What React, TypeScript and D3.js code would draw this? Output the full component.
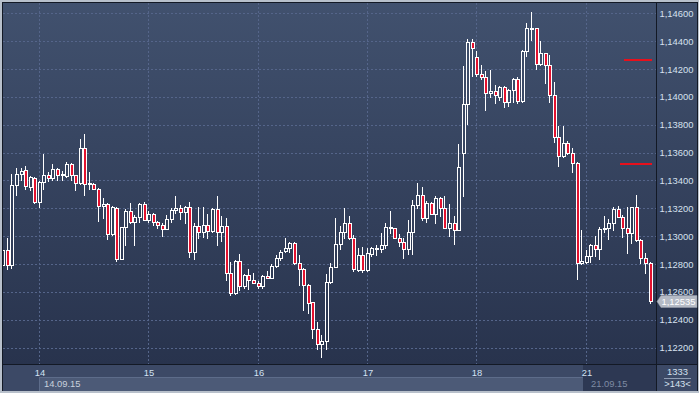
import * as d3 from 'd3';
import { useEffect, useRef } from 'react';

// EURUSD H1, 11.09.15 - 21.09.15 (143 bars shown)
const opens = [1.1279, 1.129, 1.1279, 1.13364, 1.13448, 1.13472, 1.13352, 1.13419, 1.13246, 1.13388,
  1.13441, 1.13419, 1.13484, 1.1344, 1.13431, 1.1352, 1.13436, 1.13383, 1.13636, 1.13376,
  1.13376, 1.1334, 1.13219, 1.13231, 1.13014, 1.13202, 1.12838, 1.13063, 1.13181, 1.13099,
  1.1314, 1.13231, 1.13116, 1.13159, 1.13099, 1.1308, 1.13051, 1.13123, 1.1319, 1.132,
  1.13176, 1.1321, 1.12888, 1.13073, 1.13032, 1.1308, 1.13039, 1.13195, 1.13032, 1.13073,
  1.12734, 1.1259, 1.12823, 1.12643, 1.1272, 1.12684, 1.12667, 1.12643, 1.12715, 1.12701,
  1.12787, 1.12842, 1.12893, 1.12917, 1.1295, 1.12806, 1.12763, 1.12648, 1.12528, 1.12331,
  1.12223, 1.12247, 1.12674, 1.1278, 1.12941, 1.13027, 1.13092, 1.12989, 1.12756, 1.12863,
  1.12756, 1.12874, 1.12912, 1.12905, 1.12936, 1.13066, 1.13056, 1.12989, 1.1296, 1.12905,
  1.13027, 1.13224, 1.13296, 1.13128, 1.13241, 1.13162, 1.13277, 1.13205, 1.13061, 1.13097,
  1.13042, 1.13597, 1.13947, 1.14395, 1.14287, 1.14166, 1.14142, 1.14026, 1.14043, 1.14002,
  1.1407, 1.13961, 1.14051, 1.14128, 1.13971, 1.14328, 1.14492, 1.14492, 1.14239, 1.14312,
  1.14227, 1.14016, 1.13711, 1.13578, 1.1367, 1.13598, 1.13525, 1.12804, 1.12814, 1.12857,
  1.12934, 1.12905, 1.1305, 1.13055, 1.13093, 1.13194, 1.13141, 1.13061, 1.13021, 1.13206,
  1.1297, 1.1284, 1.12809];

const highs = [1.129, 1.1299, 1.13448, 1.13489, 1.1349, 1.13504, 1.13431, 1.13424, 1.13393, 1.13593,
  1.1346, 1.1352, 1.13492, 1.13467, 1.13533, 1.13528, 1.13441, 1.13696, 1.13733, 1.1346,
  1.13383, 1.13345, 1.13272, 1.13238, 1.13219, 1.13207, 1.13063, 1.13195, 1.13236, 1.13152,
  1.13238, 1.13248, 1.13183, 1.13166, 1.13111, 1.13092, 1.13154, 1.132, 1.13291, 1.13224,
  1.13219, 1.13243, 1.13094, 1.13207, 1.13212, 1.13159, 1.132, 1.13291, 1.13147, 1.13128,
  1.12816, 1.1283, 1.12869, 1.12725, 1.12763, 1.12734, 1.12679, 1.1272, 1.12751, 1.12799,
  1.12864, 1.12902, 1.12984, 1.1296, 1.1296, 1.12864, 1.12768, 1.12653, 1.12528, 1.12384,
  1.12288, 1.12727, 1.12806, 1.13128, 1.13073, 1.132, 1.13145, 1.13008, 1.12913, 1.12922,
  1.12913, 1.12922, 1.12936, 1.13025, 1.13092, 1.13181, 1.13061, 1.13018, 1.12989, 1.13116,
  1.13258, 1.1338, 1.13354, 1.13253, 1.13248, 1.13289, 1.13284, 1.13286, 1.13229, 1.13145,
  1.13661, 1.14219, 1.14417, 1.14417, 1.14328, 1.14231, 1.14183, 1.14195, 1.14087, 1.1408,
  1.14075, 1.14055, 1.14135, 1.14142, 1.1434, 1.14533, 1.14612, 1.14497, 1.144, 1.14315,
  1.14299, 1.14107, 1.1379, 1.1379, 1.1368, 1.13631, 1.1353, 1.13045, 1.129, 1.12941,
  1.13001, 1.13069, 1.13146, 1.13122, 1.13206, 1.13218, 1.1315, 1.13206, 1.13206, 1.13297,
  1.12977, 1.12881, 1.12814];

const lows = [1.1278, 1.12766, 1.1277, 1.13296, 1.134, 1.13335, 1.13328, 1.1324, 1.13207, 1.1334,
  1.13393, 1.134, 1.13405, 1.13405, 1.13424, 1.134, 1.13332, 1.13376, 1.13296, 1.1334,
  1.13335, 1.13106, 1.13128, 1.12978, 1.13007, 1.12822, 1.12838, 1.12938, 1.13094, 1.12938,
  1.13099, 1.13116, 1.13104, 1.13082, 1.13055, 1.13002, 1.13051, 1.13099, 1.13166, 1.13123,
  1.13094, 1.12847, 1.12835, 1.12984, 1.12991, 1.12984, 1.13032, 1.12936, 1.12967, 1.12686,
  1.12581, 1.12586, 1.12612, 1.12631, 1.12619, 1.12662, 1.12629, 1.12629, 1.12696, 1.12696,
  1.12782, 1.1283, 1.12888, 1.12888, 1.12797, 1.12648, 1.1247, 1.12451, 1.12271, 1.12187,
  1.12134, 1.12192, 1.12667, 1.1278, 1.12905, 1.12989, 1.12977, 1.12751, 1.1275, 1.12745,
  1.1275, 1.12857, 1.12864, 1.12888, 1.12912, 1.13025, 1.12984, 1.12929, 1.12845, 1.12874,
  1.12874, 1.13205, 1.13114, 1.13104, 1.13162, 1.13097, 1.13145, 1.13056, 1.13001, 1.12941,
  1.13042, 1.13291, 1.13805, 1.1415, 1.14147, 1.1413, 1.13906, 1.14002, 1.13954, 1.13978,
  1.13925, 1.13937, 1.13966, 1.13954, 1.13966, 1.14296, 1.14408, 1.14203, 1.14232, 1.14102,
  1.13963, 1.13674, 1.13501, 1.13566, 1.1359, 1.13458, 1.12689, 1.12797, 1.12804, 1.12814,
  1.12857, 1.12833, 1.1303, 1.12979, 1.13045, 1.13134, 1.12997, 1.12881, 1.12948, 1.12965,
  1.12809, 1.12737, 1.12521];

const closes = [1.129, 1.1279, 1.13364, 1.13448, 1.13467, 1.13357, 1.13424, 1.13246, 1.13388, 1.13441,
  1.13419, 1.13484, 1.13441, 1.13445, 1.1352, 1.13436, 1.13383, 1.13636, 1.13376, 1.1338,
  1.1334, 1.13219, 1.13231, 1.13014, 1.13212, 1.12838, 1.13063, 1.13183, 1.13099, 1.1314,
  1.13231, 1.13116, 1.13159, 1.13099, 1.1308, 1.13051, 1.13123, 1.1319, 1.132, 1.13176,
  1.1321, 1.12888, 1.13073, 1.13032, 1.1308, 1.13039, 1.13195, 1.13032, 1.13073, 1.12734,
  1.1259, 1.12823, 1.12643, 1.1272, 1.12684, 1.12667, 1.12643, 1.12715, 1.12701, 1.12787,
  1.12842, 1.12888, 1.12917, 1.1295, 1.12806, 1.12763, 1.12648, 1.12523, 1.12331, 1.12223,
  1.12247, 1.12674, 1.1278, 1.12941, 1.13027, 1.13092, 1.12989, 1.12763, 1.12863, 1.12756,
  1.12877, 1.12912, 1.12915, 1.12936, 1.13066, 1.13061, 1.12989, 1.1296, 1.12905, 1.13027,
  1.13224, 1.13296, 1.13128, 1.13241, 1.13162, 1.13277, 1.13205, 1.13061, 1.13097, 1.13042,
  1.13498, 1.13947, 1.14395, 1.14352, 1.14166, 1.14142, 1.14026, 1.14043, 1.14014, 1.1407,
  1.13961, 1.14051, 1.14128, 1.13971, 1.14328, 1.14496, 1.14495, 1.14239, 1.14312, 1.14227,
  1.14016, 1.13711, 1.13578, 1.1367, 1.13598, 1.13525, 1.12809, 1.12821, 1.12857, 1.12934,
  1.12905, 1.1305, 1.13055, 1.13093, 1.13194, 1.13141, 1.13061, 1.13021, 1.13206, 1.1297,
  1.1284, 1.12809, 1.12535];

// bar index where each day starts, and its label
const dayStarts = [8, 32, 56, 80, 104, 128];
const dayLabels = ['14', '15', '16', '17', '18', '21'];
const priceTicks = [1.122, 1.124, 1.126, 1.128, 1.13, 1.132, 1.134, 1.136, 1.138, 1.14, 1.142, 1.144, 1.146];
const levelPrices = [1.14263, 1.13518];
const firstDate = '14.09.15';
const lastDate = '21.09.15';
const lastPrice = 1.12535;
const barCount = '1333';
const barsShown = '>143<';

function App() {
    const svgRef = useRef<SVGSVGElement>(null);

    useEffect(() => {
        document.body.style.margin = '0';
        const svg = d3.select(svgRef.current);
        svg.selectAll('*').remove();

        const W = 699, H = 393;
        const plot = { left: 3, right: 656, top: 3, bottom: 364 };
        const font = '"Liberation Sans", Arial, sans-serif';
        const fs = 9.4;

        const x = d3.scaleBand<number>()
            .domain(d3.range(opens.length))
            .range([1, 1 + opens.length * 4.558]);
        const xc = (i: number) => Math.round((x(i) as number) + x.bandwidth() / 2);
        const y = d3.scaleLinear().domain([1.12082, 1.14674]).range([plot.bottom, plot.top]);
        const fmt = (v: number) => d3.format('.5f')(v).replace('.', ',');

        // gradient for plot + price panel
        const defs = svg.append('defs');
        const grad = defs.append('linearGradient')
            .attr('id', 'bg').attr('gradientUnits', 'userSpaceOnUse')
            .attr('x1', 0).attr('y1', plot.top).attr('x2', 0).attr('y2', plot.bottom);
        grad.append('stop').attr('offset', '0%').attr('stop-color', '#41516e');
        grad.append('stop').attr('offset', '100%').attr('stop-color', '#28334d');
        defs.append('clipPath').attr('id', 'plotClip')
            .append('rect').attr('x', plot.left).attr('y', plot.top)
            .attr('width', plot.right - plot.left).attr('height', plot.bottom - plot.top);

        // frame
        svg.append('rect').attr('width', W).attr('height', H).attr('fill', '#b8c0cb');
        svg.append('rect').attr('x', 2).attr('y', 2).attr('width', 696).attr('height', 389).attr('fill', '#131925');
        svg.append('rect').attr('x', plot.left).attr('y', plot.top)
            .attr('width', plot.right - plot.left).attr('height', plot.bottom - plot.top).attr('fill', 'url(#bg)');
        svg.append('rect').attr('x', plot.right + 1).attr('y', plot.top)
            .attr('width', 697 - plot.right - 1).attr('height', plot.bottom - plot.top).attr('fill', 'url(#bg)');
        // time axis rows
        svg.append('rect').attr('x', plot.left).attr('y', plot.bottom + 1)
            .attr('width', plot.right - plot.left).attr('height', 26).attr('fill', '#3c4966');
        svg.append('rect').attr('x', plot.right + 1).attr('y', plot.bottom + 1)
            .attr('width', 697 - plot.right - 1).attr('height', 26).attr('fill', '#3c4966');
        const stripX = xc(dayStarts[0]) - 1;
        svg.append('rect').attr('x', stripX).attr('y', 378)
            .attr('width', 583 - stripX).attr('height', 13).attr('fill', '#4c5a77');
        svg.append('line').attr('x1', stripX).attr('x2', 583).attr('y1', 377.5).attr('y2', 377.5)
            .attr('stroke', '#5d6c8a');
        svg.append('line').attr('x1', stripX + 0.5).attr('x2', stripX + 0.5).attr('y1', 378).attr('y2', 391)
            .attr('stroke', '#5d6c8a');

        // current date box (drawn under the day labels)
        svg.append('rect').attr('x', 583).attr('y', plot.bottom + 1).attr('width', plot.right - 583).attr('height', 26)
            .attr('fill', '#2a3550').attr('opacity', 0.85);
        svg.append('text').attr('x', 591).attr('y', 387)
            .attr('font-family', font).attr('font-size', fs).attr('fill', '#7e8ba3').text(lastDate);

        // grid
        const grid = svg.append('g').attr('stroke', '#55658a').attr('stroke-dasharray', '2,2').attr('stroke-width', 1);
        grid.selectAll('line.h').data(priceTicks).join('line')
            .attr('x1', plot.left).attr('x2', plot.right)
            .attr('y1', d => Math.round(y(d)) + 0.5).attr('y2', d => Math.round(y(d)) + 0.5);
        grid.selectAll('line.v').data(dayStarts).join('line')
            .attr('x1', d => xc(d) - 0.5).attr('x2', d => xc(d) - 0.5)
            .attr('y1', plot.top).attr('y2', plot.bottom);

        // candles
        const idx = d3.range(opens.length);
        const candles = svg.append('g').attr('clip-path', 'url(#plotClip)');
        candles.selectAll('line.wick').data(idx).join('line')
            .attr('x1', i => xc(i) - 0.5).attr('x2', i => xc(i) - 0.5)
            .attr('y1', i => Math.round(y(highs[i]))).attr('y2', i => Math.round(y(lows[i])) + 1)
            .attr('stroke', '#ffffff').attr('stroke-width', 1);
        candles.selectAll('rect.body').data(idx).join('rect')
            .attr('x', i => xc(i) - 1.5)
            .attr('y', i => Math.round(y(Math.max(opens[i], closes[i]))) + 0.5)
            .attr('width', 3)
            .attr('height', i => Math.max(1, Math.round(y(Math.min(opens[i], closes[i]))) - Math.round(y(Math.max(opens[i], closes[i])))))
            .attr('fill', i => closes[i] >= opens[i] ? 'url(#bg)' : '#e3122f')
            .attr('stroke', '#ffffff').attr('stroke-width', 1);

        // red level marks at right edge
        svg.selectAll('line.level').data(levelPrices).join('line')
            .attr('x1', (d, k) => xc(137) - 4 * (k + 1)).attr('x2', xc(142) + 1)
            .attr('y1', d => Math.round(y(d))).attr('y2', d => Math.round(y(d)))
            .attr('stroke', '#e8101c').attr('stroke-width', 2);

        // price axis labels
        svg.append('g').selectAll('text').data(priceTicks).join('text')
            .attr('x', plot.right + 3.5).attr('y', d => y(d) + 3.5)
            .attr('font-family', font).attr('font-size', fs).attr('fill', '#d6e1ef')
            .text(d => fmt(d));

        // last price tag
        const ly = Math.round(y(lastPrice));
        svg.append('path')
            .attr('d', `M${plot.right + 1},${ly + 0.5} L${plot.right + 5},${ly - 5.5} L697,${ly - 5.5} L697,${ly + 6.5} L${plot.right + 5},${ly + 6.5} Z`)
            .attr('fill', '#b4bac5').attr('stroke', '#9aa1ad').attr('stroke-width', 0.5);
        svg.append('text').attr('x', plot.right + 5.5).attr('y', ly + 4)
            .attr('font-family', font).attr('font-size', fs).attr('fill', '#ffffff')
            .text(fmt(lastPrice));

        // day labels
        svg.append('g').selectAll('text').data(dayStarts).join('text')
            .attr('x', d => xc(d)).attr('y', 375.5).attr('text-anchor', 'middle')
            .attr('font-family', font).attr('font-size', fs).attr('fill', '#d2e2f4')
            .text((d, k) => dayLabels[k]);
        svg.append('text').attr('x', stripX + 5).attr('y', 387)
            .attr('font-family', font).attr('font-size', fs).attr('fill', '#c9d1dd').text(firstDate);

        // corner: bar counters
        svg.append('text').attr('x', 677.5).attr('y', 375).attr('text-anchor', 'middle')
            .attr('font-family', font).attr('font-size', fs).attr('fill', '#d6e1ef').text(barCount);
        svg.append('line').attr('x1', 664).attr('x2', 691).attr('y1', 378.5).attr('y2', 378.5)
            .attr('stroke', '#8f9cb3');
        svg.append('text').attr('x', 677.5).attr('y', 387).attr('text-anchor', 'middle')
            .attr('font-family', font).attr('font-size', fs).attr('fill', '#d6e1ef').text(barsShown);
    }, []);

    return <svg ref={svgRef} width={699} height={393} style={{ display: 'block' }} />;
}

export default App;
